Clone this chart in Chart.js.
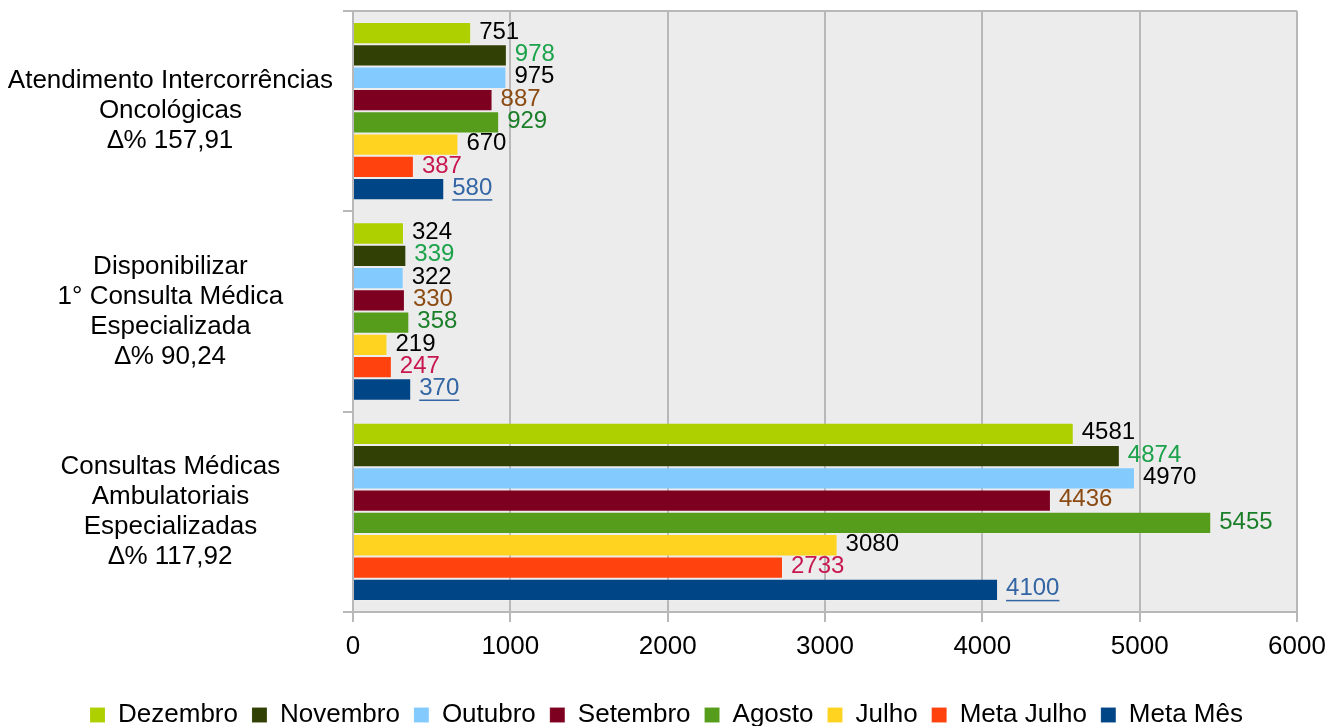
<!DOCTYPE html>
<html>
<head>
<meta charset="utf-8">
<script src="https://cdn.jsdelivr.net/npm/chart.js@4.4.1/dist/chart.umd.min.js"></script>
<style>
  html, body { margin:0; padding:0; background:#fff; }
  #wrap { width:1330px; height:726px; }
</style>
</head>
<body>
<div id="wrap"><canvas id="chart"></canvas></div>
<script>
// ── DATA ──
const categories = [
    ['Atendimento Intercorrências', 'Oncológicas', '∆% 157,91'],
    ['Disponibilizar', '1° Consulta Médica', 'Especializada', '∆% 90,24'],
    ['Consultas Médicas', 'Ambulatoriais', 'Especializadas', '∆% 117,92']
];
const seriesNames = ['Dezembro', 'Novembro', 'Outubro', 'Setembro', 'Agosto', 'Julho', 'Meta Julho', 'Meta Mês'];
const dezembro  = [751, 324, 4581];
const novembro  = [978, 339, 4874];
const outubro   = [975, 322, 4970];
const setembro  = [887, 330, 4436];
const agosto    = [929, 358, 5455];
const julho     = [670, 219, 3080];
const metaJulho = [387, 247, 2733];
const metaMes   = [580, 370, 4100];
const xTicks = [0, 1000, 2000, 3000, 4000, 5000, 6000];

const seriesValues = [dezembro, novembro, outubro, setembro, agosto, julho, metaJulho, metaMes];
const barColors   = ['#aecf00', '#314004', '#83caff', '#7e0021', '#579d1c', '#ffd320', '#ff420e', '#004586'];
const labelColors = ['#000000', '#1ba24a', '#000000', '#8b4a12', '#1b7f2a', '#000000', '#c8174f', '#3465a4'];

const FONT = "'Liberation Sans', Arial, sans-serif";

// plot background + top border
const areaBg = {
    id: 'areaBg',
    beforeDraw(chart) {
        const { ctx, chartArea: a } = chart;
        ctx.save();
        ctx.fillStyle = '#ececec';
        ctx.fillRect(a.left, a.top, a.right - a.left, a.bottom - a.top);
        ctx.restore();
    },
    afterDraw(chart) {
        const { ctx, chartArea: a } = chart;
        ctx.save();
        ctx.strokeStyle = '#b8b8b8';
        ctx.lineWidth = 2;
        ctx.beginPath();
        ctx.moveTo(a.left - 10, a.top);
        ctx.lineTo(a.right, a.top);
        ctx.stroke();
        ctx.restore();
    }
};

// value labels at bar ends
const valueLabels = {
    id: 'valueLabels',
    afterDatasetsDraw(chart) {
        const ctx = chart.ctx;
        ctx.save();
        ctx.font = '24px ' + FONT;
        ctx.textAlign = 'left';
        ctx.textBaseline = 'middle';
        chart.data.datasets.forEach((ds, di) => {
            const meta = chart.getDatasetMeta(di);
            meta.data.forEach((bar, i) => {
                const txt = String(ds.data[i]);
                const x = bar.x + 8, y = bar.y - 1;
                ctx.fillStyle = labelColors[di];
                ctx.fillText(txt, x, y);
                if (di === 7) {
                    const w = ctx.measureText(txt).width;
                    ctx.fillRect(x, y + 11, w, 1.5);
                }
            });
        });
        ctx.restore();
    }
};

// legend: sit near bottom edge, centred like the original
const legendFit = {
    id: 'legendFit',
    afterInit(chart) {
        const orig = chart.legend.fit;
        chart.legend.fit = function () { orig.call(this); this.height -= 12; };
    },
    afterLayout(chart) {
        chart.legend.left = 36;
        chart.legend.right = 1297;
    }
};

new Chart(document.getElementById('chart'), {
    type: 'bar',
    data: {
        labels: categories,
        datasets: seriesNames.map((n, k) => ({
            label: n,
            data: seriesValues[k],
            backgroundColor: barColors[k],
            borderColor: 'rgba(255,255,255,0.12)',
            borderWidth: 1,
            categoryPercentage: 0.89,
            barPercentage: 1.0
        }))
    },
    options: {
        indexAxis: 'y',
        responsive: true, maintainAspectRatio: false, animation: false,
        layout: { padding: { top: 11, left: 0, right: 33, bottom: 0 } },
        plugins: {
            tooltip: { enabled: false },
            legend: {
                position: 'bottom',
                labels: { color: '#000', font: { family: FONT, size: 26 }, boxWidth: 15, boxHeight: 15, padding: 14 }
            }
        },
        scales: {
            x: {
                min: 0, max: 6000,
                afterBuildTicks: s => { s.ticks = xTicks.map(v => ({ value: v })); },
                afterFit: s => { s.height = 76; s.paddingLeft = 0; s.paddingRight = 0; },
                ticks: { color: '#000', font: { family: FONT, size: 26 }, padding: 9, callback: v => String(v) },
                grid: { color: '#b8b8b8', lineWidth: 2, tickLength: 10 },
                border: { color: '#b8b8b8', width: 2 }
            },
            y: {
                afterFit: s => { s.width = 353; s.paddingTop = 0; s.paddingBottom = 0; },
                ticks: { color: '#000', font: { family: FONT, size: 26, lineHeight: 1.15 }, padding: 10, crossAlign: 'center' },
                grid: { color: '#b8b8b8', lineWidth: 2, tickLength: 10, drawOnChartArea: false },
                border: { color: '#b8b8b8', width: 2 }
            }
        }
    },
    plugins: [areaBg, valueLabels, legendFit]
});
</script>
</body>
</html>
